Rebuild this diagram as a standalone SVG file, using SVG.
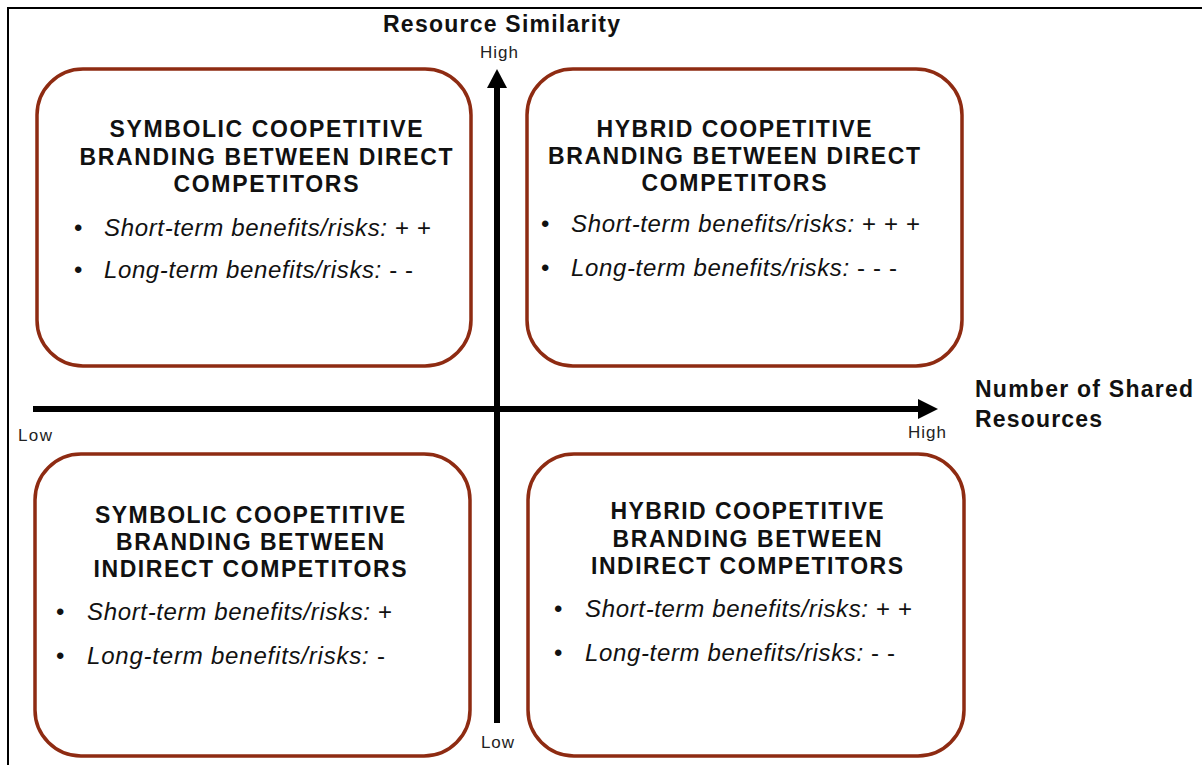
<svg xmlns="http://www.w3.org/2000/svg" width="1202" height="765" viewBox="0 0 1202 765">
<defs>
<style>
.box{fill:#fff;stroke:#8E2B12;stroke-width:3.5}
.title{font-family:"Liberation Sans",Arial,sans-serif;font-weight:bold;font-size:23px;fill:#111;text-anchor:middle}
.bul{font-family:"Liberation Sans",Arial,sans-serif;font-size:24px;fill:#111}
.it{font-style:italic}
.ax{font-family:"Liberation Sans",Arial,sans-serif;font-size:17px;fill:#222}
.axt{font-family:"Liberation Sans",Arial,sans-serif;font-weight:bold;font-size:23px;fill:#111}
.axis{stroke:#000;stroke-width:6;fill:none}
</style>
</defs>
<rect x="0" y="0" width="1202" height="765" fill="#fff"/>
<rect x="8" y="8" width="1210" height="780" fill="none" stroke="#000" stroke-width="2"/>

<g id="q-tl">
<rect class="box" x="37" y="69" width="434" height="297" rx="46"/>
<text class="title" x="266" y="137" textLength="313" lengthAdjust="spacing">SYMBOLIC COOPETITIVE</text>
<text class="title" x="266" y="165" textLength="373" lengthAdjust="spacing">BRANDING BETWEEN DIRECT</text>
<text class="title" x="266" y="192" textLength="185" lengthAdjust="spacing">COMPETITORS</text>
<text class="bul" x="74" y="236">•</text>
<text class="bul" x="104" y="236" textLength="327" lengthAdjust="spacing"><tspan class="it">Short-term benefits/risks:</tspan> + +</text>
<text class="bul" x="74" y="278">•</text>
<text class="bul" x="104" y="278" textLength="309" lengthAdjust="spacing"><tspan class="it">Long-term benefits/risks:</tspan> - -</text>
</g>

<g id="q-tr">
<rect class="box" x="527" y="69" width="435" height="297" rx="46"/>
<text class="title" x="734" y="137" textLength="275" lengthAdjust="spacing">HYBRID COOPETITIVE</text>
<text class="title" x="734" y="164" textLength="372" lengthAdjust="spacing">BRANDING BETWEEN DIRECT</text>
<text class="title" x="734" y="191" textLength="185" lengthAdjust="spacing">COMPETITORS</text>
<text class="bul" x="541" y="232">•</text>
<text class="bul" x="571" y="232" textLength="349" lengthAdjust="spacing"><tspan class="it">Short-term benefits/risks:</tspan> + + +</text>
<text class="bul" x="541" y="276">•</text>
<text class="bul" x="571" y="276" textLength="326" lengthAdjust="spacing"><tspan class="it">Long-term benefits/risks:</tspan> - - -</text>
</g>

<g id="q-bl">
<rect class="box" x="35" y="454" width="435" height="302" rx="46"/>
<text class="title" x="250" y="523" textLength="310" lengthAdjust="spacing">SYMBOLIC COOPETITIVE</text>
<text class="title" x="250" y="550" textLength="268" lengthAdjust="spacing">BRANDING BETWEEN</text>
<text class="title" x="250" y="577" textLength="313" lengthAdjust="spacing">INDIRECT COMPETITORS</text>
<text class="bul" x="56" y="620">•</text>
<text class="bul" x="87" y="620" textLength="305" lengthAdjust="spacing"><tspan class="it">Short-term benefits/risks:</tspan> +</text>
<text class="bul" x="56" y="664">•</text>
<text class="bul" x="87" y="664" textLength="298" lengthAdjust="spacing"><tspan class="it">Long-term benefits/risks:</tspan> -</text>
</g>

<g id="q-br">
<rect class="box" x="528" y="454" width="436" height="302" rx="46"/>
<text class="title" x="747" y="519" textLength="273" lengthAdjust="spacing">HYBRID COOPETITIVE</text>
<text class="title" x="747" y="547" textLength="269" lengthAdjust="spacing">BRANDING BETWEEN</text>
<text class="title" x="747" y="574" textLength="312" lengthAdjust="spacing">INDIRECT COMPETITORS</text>
<text class="bul" x="554" y="617">•</text>
<text class="bul" x="585" y="617" textLength="327" lengthAdjust="spacing"><tspan class="it">Short-term benefits/risks:</tspan> + +</text>
<text class="bul" x="554" y="661">•</text>
<text class="bul" x="585" y="661" textLength="310" lengthAdjust="spacing"><tspan class="it">Long-term benefits/risks:</tspan> - -</text>
</g>

<g id="connectors">
<line class="axis" x1="497" y1="723" x2="497" y2="86"/>
<polygon points="497,69 487,88 507,88" fill="#000"/>
<line class="axis" x1="33" y1="409" x2="919" y2="409"/>
<polygon points="938,409 918,399 918,419" fill="#000"/>
</g>

<g id="labels">
<text class="axt" x="383" y="32" textLength="237" lengthAdjust="spacing">Resource Similarity</text>
<text class="ax" x="480" y="58" textLength="38" lengthAdjust="spacing">High</text>
<text class="ax" x="18" y="441" textLength="34" lengthAdjust="spacing">Low</text>
<text class="ax" x="908" y="438" textLength="38" lengthAdjust="spacing">High</text>
<text class="ax" x="481" y="748" textLength="33" lengthAdjust="spacing">Low</text>
<text class="axt" x="975" y="397" textLength="218" lengthAdjust="spacing">Number of Shared</text>
<text class="axt" x="975" y="427" textLength="127" lengthAdjust="spacing">Resources</text>
</g>
</svg>
